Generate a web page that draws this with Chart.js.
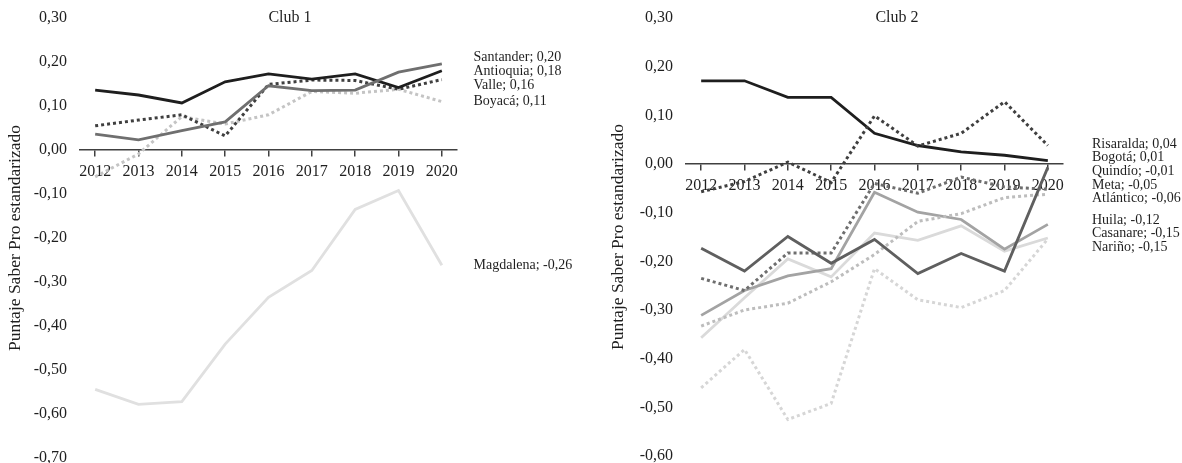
<!DOCTYPE html>
<html>
<head>
<meta charset="utf-8">
<script src="https://cdn.jsdelivr.net/npm/chart.js@4.4.1/dist/chart.umd.min.js"></script>
<style>
  html, body { margin: 0; padding: 0; background: #ffffff; }
  #wrap { position: relative; width: 1182px; height: 463px; overflow: hidden; }
  .panel { position: absolute; top: 0; height: 463px; }
  #p1 { left: 0; width: 590px; }
  #p2 { left: 590px; width: 592px; }
</style>
</head>
<body>
<div id="wrap">
  <div class="panel" id="p1"><canvas id="c1" width="590" height="463"></canvas></div>
  <div class="panel" id="p2"><canvas id="c2" width="592" height="463"></canvas></div>
</div>
<script>
// Years on the horizontal axis
const years = [2012, 2013, 2014, 2015, 2016, 2017, 2018, 2019, 2020];

// Club 1 departments
const club1Names = ['Santander', 'Antioquia', 'Valle', 'Boyacá', 'Magdalena'];
const santander = [0.036, 0.023, 0.044, 0.064, 0.146, 0.135, 0.136, 0.177, 0.196];
const antioquia = [0.136, 0.125, 0.107, 0.155, 0.173, 0.161, 0.173, 0.142, 0.180];
const valle     = [0.055, 0.068, 0.080, 0.032, 0.149, 0.159, 0.158, 0.138, 0.160];
const boyaca    = [-0.061, -0.009, 0.076, 0.059, 0.080, 0.133, 0.129, 0.138, 0.110];
const magdalena = [-0.544, -0.578, -0.572, -0.441, -0.335, -0.274, -0.135, -0.092, -0.262];

// Club 2 departments
const club2Names = ['Risaralda', 'Bogotá', 'Quindío', 'Meta', 'Atlántico', 'Huila', 'Casanare', 'Nariño'];
const risaralda = [-0.057, -0.036, 0.004, -0.038, 0.099, 0.037, 0.063, 0.128, 0.038];
const bogota    = [0.171, 0.171, 0.137, 0.137, 0.063, 0.038, 0.025, 0.018, 0.007];
const quindio   = [-0.173, -0.220, -0.149, -0.204, -0.155, -0.225, -0.184, -0.220, -0.007];
const meta      = [-0.235, -0.260, -0.183, -0.183, -0.040, -0.060, -0.027, -0.047, -0.052];
const atlantico = [-0.333, -0.300, -0.286, -0.242, -0.186, -0.118, -0.102, -0.069, -0.062];
const huila     = [-0.311, -0.260, -0.230, -0.215, -0.058, -0.099, -0.114, -0.175, -0.124];
const casanare  = [-0.357, -0.275, -0.195, -0.232, -0.142, -0.157, -0.127, -0.179, -0.152];
const narino    = [-0.460, -0.381, -0.525, -0.492, -0.215, -0.279, -0.295, -0.260, -0.154];

// Axis tick values
const club1Ticks = [0.3, 0.2, 0.1, 0, -0.1, -0.2, -0.3, -0.4, -0.5, -0.6, -0.7];
const club2Ticks = [0.3, 0.2, 0.1, 0, -0.1, -0.2, -0.3, -0.4, -0.5, -0.6];

const SERIF = '"Liberation Serif", "Times New Roman", serif';
const TEXT = '#1f1f1f';
const AXIS = '#404040';

function fmt(v) {
  return v.toFixed(2).replace('.', ',').replace(/^-0,00$/, '0,00');
}

function solid(color) {
  return { borderColor: color, borderWidth: 2.8, borderDash: [], borderCapStyle: 'butt' };
}
function dotted(color) {
  return { borderColor: color, borderWidth: 3, borderDash: [3, 3], borderCapStyle: 'butt' };
}

function series(name, values, style) {
  return Object.assign({
    label: name,
    data: values.map((v, i) => ({ x: years[i], y: v })),
    pointRadius: 0,
    pointHoverRadius: 0,
    tension: 0,
    fill: false,
    borderJoinStyle: 'miter'
  }, style);
}

// Places the "name; value" labels to the right of the last point, spreading
// neighbours apart so they never overlap.
const endLabels = {
  id: 'endLabels',
  afterDatasetsDraw(chart, args, opts) {
    const ctx = chart.ctx;
    const items = chart.data.datasets.map((ds, i) => {
      const meta = chart.getDatasetMeta(i);
      const pt = meta.data[meta.data.length - 1];
      const v = ds.data[ds.data.length - 1].y;
      return { idx: i, y: pt.y, text: ds.label + '; ' + fmt(v) };
    }).sort((a, b) => (a.y - b.y) || (a.idx - b.idx));
    const gap = opts.gap;
    let groups = items.map(it => ({ items: [it], mean: it.y }));
    let merged = true;
    while (merged) {
      merged = false;
      for (let i = 0; i < groups.length - 1; i++) {
        const a = groups[i], b = groups[i + 1];
        const aBottom = a.mean + (a.items.length - 1) * gap / 2;
        const bTop = b.mean - (b.items.length - 1) * gap / 2;
        if (bTop - aBottom < gap) {
          const all = a.items.concat(b.items);
          groups.splice(i, 2, { items: all, mean: all.reduce((s, x) => s + x.y, 0) / all.length });
          merged = true;
          break;
        }
      }
    }
    ctx.save();
    ctx.font = opts.font;
    ctx.fillStyle = TEXT;
    ctx.textAlign = 'left';
    ctx.textBaseline = 'middle';
    const x = chart.chartArea.right + opts.dx;
    groups.forEach(g => {
      g.items.forEach((it, k) => {
        const ly = g.mean + (k - (g.items.length - 1) / 2) * gap;
        ctx.fillText(it.text, x, ly);
      });
    });
    ctx.restore();
  }
};

// Panel heading and rotated axis title (centred on the plot area)
const panelText = {
  id: 'panelText',
  afterDraw(chart, args, opts) {
    const ctx = chart.ctx;
    const area = chart.chartArea;
    ctx.save();
    ctx.fillStyle = TEXT;
    ctx.font = '16px ' + SERIF;
    ctx.textAlign = 'center';
    ctx.textBaseline = 'middle';
    ctx.fillText(opts.title, opts.titleX, opts.titleY);
    ctx.translate(opts.axisX, (area.top + area.bottom) / 2);
    ctx.rotate(-Math.PI / 2);
    ctx.font = '17.5px ' + SERIF;
    ctx.fillText(opts.axisTitle, 0, 0);
    ctx.restore();
  }
};

function makeChart(canvasId, datasets, ticks, cfg) {
  return new Chart(document.getElementById(canvasId), {
    type: 'line',
    data: { datasets },
    plugins: [endLabels, panelText],
    options: {
      responsive: false,
      animation: false,
      events: [],
      layout: { padding: { left: 0, right: cfg.padRight, top: cfg.padTop, bottom: cfg.padBottom } },
      plugins: {
        legend: { display: false },
        tooltip: { enabled: false },
        title: { display: false },
        endLabels: { gap: 13.6, dx: cfg.labelDx, font: '14px ' + SERIF },
        panelText: {
          title: cfg.title, titleX: cfg.titleX, titleY: 18,
          axisTitle: 'Puntaje Saber Pro estandarizado', axisX: cfg.axisX
        }
      },
      scales: {
        x: {
          type: 'linear',
          position: { y: 0 },
          min: years[0] - 0.35,
          max: years[years.length - 1] + 0.35,
          afterBuildTicks(scale) { scale.ticks = years.map(v => ({ value: v })); },
          afterFit(scale) { scale.paddingLeft = 0; scale.paddingRight = 0; },
          border: { display: true, color: AXIS, width: 1.5 },
          grid: { display: true, drawOnChartArea: false, drawTicks: true, tickLength: 6, color: AXIS, lineWidth: 1.5 },
          ticks: {
            autoSkip: false, maxRotation: 0, padding: 6,
            color: TEXT, font: { family: SERIF, size: 16 },
            callback: v => String(v)
          }
        },
        y: {
          type: 'linear',
          position: 'left',
          min: ticks[ticks.length - 1],
          max: ticks[0],
          afterBuildTicks(scale) { scale.ticks = ticks.map(v => ({ value: v })); },
          afterFit(scale) { scale.width = cfg.yWidth; scale.paddingTop = 0; scale.paddingBottom = 0; },
          border: { display: false },
          grid: { display: false, drawTicks: false },
          ticks: {
            padding: 13, color: TEXT, font: { family: SERIF, size: 16 },
            callback: v => fmt(v)
          }
        }
      }
    }
  });
}

makeChart('c1', [
  series(club1Names[0], santander, solid('#6f6f6f')),
  series(club1Names[1], antioquia, solid('#1e1e1e')),
  series(club1Names[2], valle, dotted('#3f3f3f')),
  series(club1Names[3], boyaca, dotted('#c4c4c4')),
  series(club1Names[4], magdalena, solid('#e0e0e0'))
], club1Ticks, {
  padRight: 133, padTop: 18, padBottom: 5, yWidth: 80,
  labelDx: 16.5, title: 'Club 1', titleX: 290, axisX: 15
});

makeChart('c2', [
  series(club2Names[0], risaralda, dotted('#3f3f3f')),
  series(club2Names[1], bogota, solid('#1e1e1e')),
  series(club2Names[2], quindio, solid('#5f5f5f')),
  series(club2Names[3], meta, dotted('#6e6e6e')),
  series(club2Names[4], atlantico, dotted('#bdbdbd')),
  series(club2Names[5], huila, solid('#a3a3a3')),
  series(club2Names[6], casanare, solid('#dadada')),
  series(club2Names[7], narino, dotted('#d6d6d6'))
], club2Ticks, {
  padRight: 119, padTop: 18, padBottom: 7, yWidth: 96,
  labelDx: 29, title: 'Club 2', titleX: 307, axisX: 28
});
</script>
</body>
</html>
